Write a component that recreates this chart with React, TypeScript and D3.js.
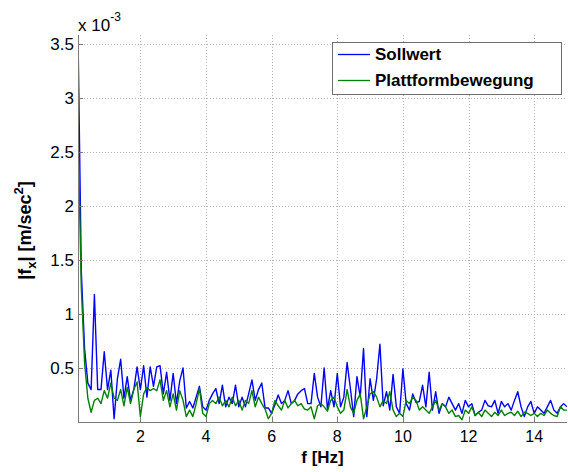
import React, { useEffect, useRef } from "react";
import * as d3 from "d3";

// Frequency grid of the amplitude spectrum (Hz), 0.1 Hz resolution
const freqStart = 0.1;
const freqStep = 0.1;

// |f_x| amplitude spectra, in units of 1e-3 m/sec^2
const sollwert = [
  3.58, 1.40, 0.68, 0.36, 0.30, 1.18, 0.30, 0.30, 0.65, 0.30,
  0.48, 0.03, 0.40, 0.58, 0.22, 0.42, 0.20, 0.30, 0.51, 0.30,
  0.52, 0.23, 0.51, 0.33, 0.51, 0.52, 0.26, 0.46, 0.20, 0.45,
  0.17, 0.38, 0.50, 0.13, 0.19, 0.13, 0.23, 0.33, 0.14, 0.11,
  0.20, 0.26, 0.31, 0.17, 0.34, 0.14, 0.23, 0.17, 0.34, 0.14,
  0.23, 0.14, 0.26, 0.39, 0.20, 0.30, 0.36, 0.13, 0.13, 0.08,
  0.16, 0.25, 0.17, 0.20, 0.29, 0.17, 0.20, 0.26, 0.29, 0.31,
  0.17, 0.17, 0.45, 0.23, 0.14, 0.50, 0.12, 0.29, 0.14, 0.45,
  0.14, 0.23, 0.55, 0.31, 0.05, 0.42, 0.23, 0.68, 0.05, 0.40,
  0.20, 0.40, 0.72, 0.15, 0.28, 0.11, 0.44, 0.14, 0.08, 0.49,
  0.17, 0.11, 0.26, 0.18, 0.19, 0.34, 0.14, 0.46, 0.11, 0.28,
  0.08, 0.17, 0.14, 0.23, 0.17, 0.11, 0.17, 0.08, 0.20, 0.14,
  0.17, 0.06, 0.09, 0.11, 0.20, 0.15, 0.14, 0.20, 0.08, 0.19,
  0.14, 0.17, 0.11, 0.20, 0.28, 0.14, 0.05, 0.14, 0.19, 0.08,
  0.14, 0.11, 0.08, 0.14, 0.20, 0.11, 0.08, 0.14, 0.17, 0.14,
];

const plattformbewegung = [
  2.70, 1.25, 0.55, 0.22, 0.09, 0.20, 0.22, 0.17, 0.29, 0.22,
  0.36, 0.22, 0.20, 0.30, 0.15, 0.32, 0.17, 0.30, 0.37, 0.05,
  0.26, 0.32, 0.29, 0.31, 0.29, 0.39, 0.20, 0.29, 0.14, 0.26,
  0.11, 0.29, 0.20, 0.05, 0.11, 0.05, 0.17, 0.31, 0.08, 0.05,
  0.17, 0.20, 0.17, 0.23, 0.15, 0.20, 0.14, 0.23, 0.15, 0.20,
  0.11, 0.20, 0.17, 0.29, 0.14, 0.23, 0.17, 0.12, 0.03, 0.08,
  0.20, 0.15, 0.11, 0.20, 0.13, 0.17, 0.20, 0.15, 0.17, 0.12,
  0.11, 0.14, 0.03, 0.15, 0.17, 0.14, 0.10, 0.20, 0.23, 0.14,
  0.08, 0.11, 0.30, 0.14, 0.08, 0.20, 0.26, 0.03, 0.14, 0.26,
  0.28, 0.23, 0.14, 0.20, 0.17, 0.28, 0.11, 0.05, 0.08, 0.05,
  0.20, 0.17, 0.23, 0.20, 0.11, 0.14, 0.11, 0.08, 0.14, 0.20,
  0.11, 0.17, 0.14, 0.08, 0.11, 0.05, 0.06, 0.02, 0.11, 0.08,
  0.14, 0.06, 0.09, 0.05, 0.11, 0.08, 0.05, 0.09, 0.06, 0.11,
  0.06, 0.08, 0.09, 0.06, 0.10, 0.05, 0.09, 0.08, 0.06, 0.08,
  0.05, 0.08, 0.06, 0.11, 0.08, 0.06, 0.05, 0.14, 0.11, 0.11,
];

const xTicks = [2, 4, 6, 8, 10, 12, 14];
const yTicks = [0.5, 1, 1.5, 2, 2.5, 3, 3.5];

const seriesNames = ["Sollwert", "Plattformbewegung"];
const seriesColors = ["#0000ff", "#008000"];

const WIDTH = 568;
const HEIGHT = 472;
const margin = { left: 78, top: 35, right: 1, bottom: 50 };
const FONT = "Arial, 'Liberation Sans', Helvetica, sans-serif";

export default function App() {
  const ref = useRef<SVGSVGElement | null>(null);

  useEffect(() => {
    const svg = d3.select(ref.current);
    svg.selectAll("*").remove();

    const x0 = margin.left;
    const x1 = WIDTH - margin.right;
    const y0 = HEIGHT - margin.bottom;
    const y1 = margin.top;

    const x = d3.scaleLinear().domain([0.1, 15]).range([x0, x1]);
    const y = d3.scaleLinear().domain([0, 3.58]).range([y0, y1]);

    svg.append("rect").attr("width", WIDTH).attr("height", HEIGHT).attr("fill", "#ffffff");

    // dotted grid
    const grid = svg.append("g").attr("stroke", "#b4b4b4").attr("stroke-width", 1).attr("stroke-dasharray", "1,2");
    xTicks.forEach((t) => {
      grid.append("line").attr("x1", Math.round(x(t)) + 0.5).attr("x2", Math.round(x(t)) + 0.5).attr("y1", y1).attr("y2", y0);
    });
    yTicks.forEach((t) => {
      grid.append("line").attr("x1", x0).attr("x2", x1).attr("y1", Math.round(y(t)) + 0.5).attr("y2", Math.round(y(t)) + 0.5);
    });

    // spectra
    svg.append("clipPath").attr("id", "plotClip").append("rect")
      .attr("x", x0).attr("y", y1).attr("width", x1 - x0).attr("height", y0 - y1);

    const line = d3.line<number>()
      .x((_, i) => x(freqStart + i * freqStep))
      .y((d) => y(d));

    [sollwert, plattformbewegung].forEach((vals, k) => {
      svg.append("path")
        .attr("d", line(vals) ?? "")
        .attr("fill", "none")
        .attr("stroke", seriesColors[k])
        .attr("stroke-width", 1.4)
        .attr("stroke-linejoin", "round")
        .attr("clip-path", "url(#plotClip)");
    });

    // axes
    const axisColor = "#7a7a7a";
    svg.append("line").attr("x1", x0 + 0.5).attr("x2", x0 + 0.5).attr("y1", y1).attr("y2", y0).attr("stroke", axisColor);
    svg.append("line").attr("x1", x0).attr("x2", x1).attr("y1", y0 + 0.5).attr("y2", y0 + 0.5).attr("stroke", axisColor);

    xTicks.forEach((t) => {
      const px = Math.round(x(t)) + 0.5;
      svg.append("line").attr("x1", px).attr("x2", px).attr("y1", y0).attr("y2", y0 - 5).attr("stroke", axisColor);
      svg.append("text").attr("x", x(t)).attr("y", y0 + 20)
        .attr("text-anchor", "middle").attr("font-family", FONT).attr("font-size", 16).attr("fill", "#000")
        .text(String(t));
    });
    yTicks.forEach((t) => {
      const py = Math.round(y(t)) + 0.5;
      svg.append("line").attr("x1", x0).attr("x2", x0 + 5).attr("y1", py).attr("y2", py).attr("stroke", axisColor);
      svg.append("text").attr("x", x0 - 4).attr("y", y(t) + 6)
        .attr("text-anchor", "end").attr("font-family", FONT).attr("font-size", 17).attr("fill", "#000")
        .text(String(t));
    });

    // exponent label
    const exp = svg.append("text").attr("x", x0).attr("y", 31)
      .attr("font-family", FONT).attr("font-size", 17).attr("fill", "#000");
    exp.append("tspan").text("x 10");
    exp.append("tspan").attr("font-size", 12).attr("dy", -10).text("-3");

    // axis titles
    svg.append("text").attr("x", (x0 + x1) / 2).attr("y", 463)
      .attr("text-anchor", "middle").attr("font-family", FONT).attr("font-size", 17)
      .attr("font-weight", "bold").attr("fill", "#000").text("f [Hz]");

    const yl = svg.append("text")
      .attr("transform", `translate(31, ${(y0 + y1) / 2 + 2}) rotate(-90)`)
      .attr("text-anchor", "middle").attr("font-family", FONT).attr("font-size", 18)
      .attr("font-weight", "bold").attr("fill", "#000");
    yl.append("tspan").text("|f");
    yl.append("tspan").attr("font-size", 13).attr("dy", 5).text("x");
    yl.append("tspan").attr("dy", -5).text("| [m/sec");
    yl.append("tspan").attr("font-size", 13).attr("dy", -8).text("2");
    yl.append("tspan").attr("dy", 8).text("]");

    // legend
    const lg = svg.append("g");
    lg.append("rect").attr("x", 332.5).attr("y", 42.5).attr("width", 229).attr("height", 52)
      .attr("fill", "#ffffff").attr("stroke", "#6e6e6e").attr("stroke-width", 1);
    seriesNames.forEach((name, i) => {
      const cy = 54 + i * 26;
      lg.append("line").attr("x1", 338).attr("x2", 370).attr("y1", cy + 0.5).attr("y2", cy + 0.5)
        .attr("stroke", seriesColors[i]).attr("stroke-width", 1.3);
      lg.append("text").attr("x", 375).attr("y", cy + 6)
        .attr("font-family", FONT).attr("font-size", 17).attr("font-weight", "bold").attr("fill", "#000")
        .text(name);
    });
  }, []);

  return (
    <svg
      ref={ref}
      width={WIDTH}
      height={HEIGHT}
      style={{ position: "absolute", left: 0, top: 0, display: "block" }}
    />
  );
}
